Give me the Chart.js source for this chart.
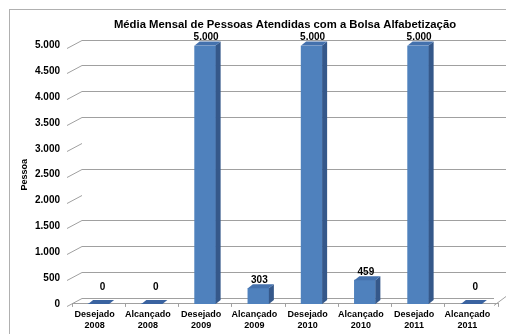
<!DOCTYPE html>
<html lang="pt">
<head>
<meta charset="utf-8">
<title>Média Mensal de Pessoas Atendidas com a Bolsa Alfabetização</title>
<script src="https://cdn.jsdelivr.net/npm/chart.js@4.4.0/dist/chart.umd.min.js"></script>
<style>
  html, body { margin: 0; padding: 0; background: #fff; }
  canvas { display: block; }
</style>
</head>
<body>
<canvas id="chart" width="506" height="334"></canvas>
<script>
// Data
const categories = [
  ['Desejado', '2008'], ['Alcançado', '2008'],
  ['Desejado', '2009'], ['Alcançado', '2009'],
  ['Desejado', '2010'], ['Alcançado', '2010'],
  ['Desejado', '2011'], ['Alcançado', '2011'],
];
const pessoas = [0, 0, 5000, 303, 5000, 459, 5000, 0];
const yMin = 0;
const yMax = 5000;
const yStep = 500;

(function () {
  'use strict';

  const FONT = '"Liberation Sans", Arial, sans-serif';
  const DEPTH_X = 5, DEPTH_Y = 4;      // bar depth faces
  const WALL_X = 10, WALL_Y = 6;       // back wall offset for gridlines
  const GRID = '#a0a0a0';
  const noGridAt = [2000, 3000];       // lines that the reference does not show

  const fmt = (v) => String(v).replace(/\B(?=(\d{3})+(?!\d))/g, '.');

  const frame = {
    id: 'frame',
    beforeDraw(chart) {
      const { ctx } = chart;
      ctx.save();
      ctx.strokeStyle = '#b0b0b0';
      ctx.lineWidth = 1;
      ctx.strokeRect(9.5, 9.5, chart.width + 20, chart.height + 20);
      ctx.restore();
    },
  };

  const wall = {
    id: 'wall',
    beforeDatasetsDraw(chart) {
      const { ctx, chartArea: a, scales: { y } } = chart;
      ctx.save();
      ctx.strokeStyle = GRID;
      ctx.lineWidth = 1;
      y.ticks.forEach((t) => {
        const p = Math.round(y.getPixelForValue(t.value));
        ctx.beginPath();
        ctx.moveTo(a.left - 5, p + 2.5);
        ctx.lineTo(a.left + WALL_X, p - WALL_Y + 0.5);
        if (!noGridAt.includes(t.value)) {
          ctx.lineTo(t.value === 0 ? a.right - 4 : chart.width, p - WALL_Y + 0.5);
        }
        ctx.stroke();
        if (t.value === 0) {
          ctx.beginPath();
          ctx.moveTo(a.right - 4, p + 1.5);
          ctx.lineTo(chart.width, p - WALL_Y - 1.5);
          ctx.stroke();
        }
      });
      ctx.restore();
    },
  };

  const depth = {
    id: 'depth',
    afterDatasetsDraw(chart) {
      const { ctx } = chart;
      const meta = chart.getDatasetMeta(0);
      ctx.save();
      meta.data.forEach((bar, i) => {
        const { x, y, base, width } = bar.getProps(['x', 'y', 'base', 'width'], true);
        const l = x - width / 2, r = x + width / 2;
        // side face
        if (base - y > 0) {
          ctx.fillStyle = '#35588a';
          ctx.beginPath();
          ctx.moveTo(r, y);
          ctx.lineTo(r + DEPTH_X, y - DEPTH_Y);
          ctx.lineTo(r + DEPTH_X, base - DEPTH_Y);
          ctx.lineTo(r, base);
          ctx.closePath();
          ctx.fill();
        }
        // top face
        ctx.fillStyle = pessoas[i] === 0 ? '#3a63a0' : '#4471ad';
        ctx.beginPath();
        ctx.moveTo(l, y);
        ctx.lineTo(l + DEPTH_X, y - DEPTH_Y);
        ctx.lineTo(r + DEPTH_X, y - DEPTH_Y);
        ctx.lineTo(r, y);
        ctx.closePath();
        ctx.fill();

        // value label
        const top = pessoas[i] === 0 ? y - 9 : y;
        ctx.fillStyle = '#000';
        ctx.font = 'bold 10px ' + FONT;
        ctx.textAlign = 'center';
        ctx.textBaseline = 'middle';
        ctx.fillText(fmt(pessoas[i]), x + (pessoas[i] === 0 ? 4 : 1), top - 8);
      });
      ctx.restore();
    },
  };

  new Chart(document.getElementById('chart').getContext('2d'), {
    type: 'bar',
    data: {
      labels: categories,
      datasets: [{
        label: 'Pessoa',
        data: pessoas,
        backgroundColor: '#4f81bd',
        borderWidth: 0,
        barThickness: 21,
      }],
    },
    options: {
      responsive: false,
      animation: false,
      devicePixelRatio: 1,
      layout: { padding: { left: 10, right: 8, top: 10, bottom: 1.5 } },
      plugins: {
        legend: { display: false },
        tooltip: { enabled: false },
        title: {
          display: true,
          fullSize: false,
          text: 'Média Mensal de Pessoas Atendidas com a Bolsa Alfabetização',
          color: '#000',
          font: { family: FONT, size: 11.3, weight: 'bold' },
          padding: { top: 8, bottom: 14 },
        },
      },
      scales: {
        x: {
          grid: { drawOnChartArea: false, drawTicks: true, tickLength: 3, color: GRID },
          border: { display: true, color: GRID },
          ticks: {
            color: '#000',
            padding: 2,
            labelOffset: -4,
            maxRotation: 0,
            autoSkip: false,
            font: { family: FONT, size: 9, weight: 'bold', lineHeight: 1.2 },
          },
        },
        y: {
          min: yMin,
          max: yMax,
          grid: { display: false, drawTicks: false },
          border: { display: false },
          afterFit(scale) { scale.width = 62; },
          ticks: {
            stepSize: yStep,
            padding: 12,
            color: '#000',
            font: { family: FONT, size: 10, weight: 'bold' },
            callback: (v) => fmt(v),
          },
          title: {
            display: true,
            text: 'Pessoa',
            color: '#000',
            font: { family: FONT, size: 9, weight: 'bold' },
            padding: { top: 9, bottom: 0 },
          },
        },
      },
    },
    plugins: [frame, wall, depth],
  });
})();
</script>
</body>
</html>
